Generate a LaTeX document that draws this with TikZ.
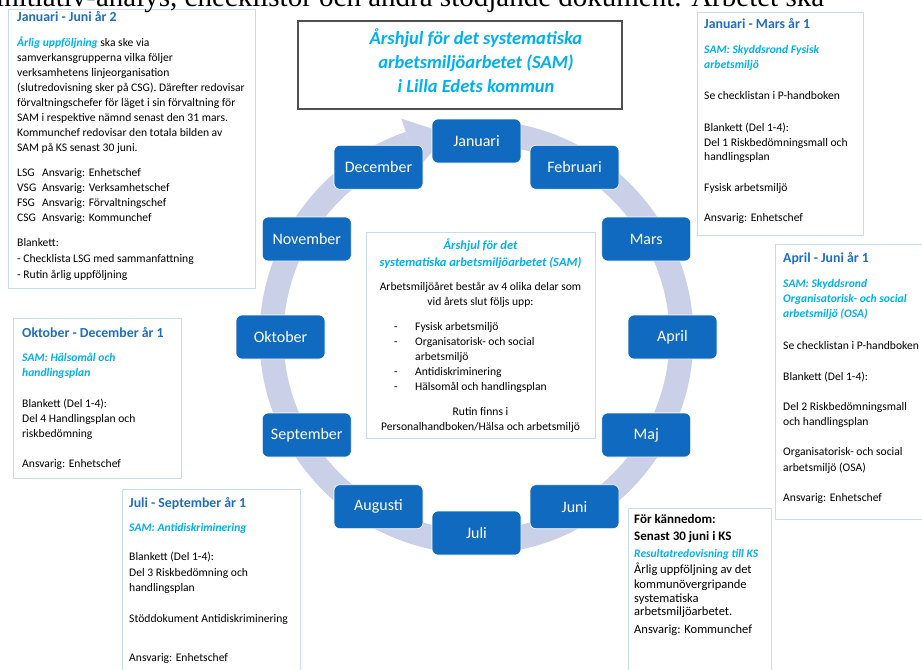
\documentclass[tikz,border=0pt]{standalone}
\usepackage{fontspec}
\setmainfont{Carlito}
\newfontfamily\seriffont{Liberation Serif}
\usepackage{xcolor}
\definecolor{monthblue}{RGB}{16,106,192}
\definecolor{headblue}{RGB}{30,110,198}
\definecolor{samcyan}{RGB}{0,176,240}
\definecolor{ringgray}{RGB}{201,208,232}
\definecolor{boxline}{RGB}{197,220,244}
\definecolor{titleline}{RGB}{80,80,80}
\newcommand{\samline}[1]{\textcolor{samcyan}{\bfseries\itshape #1}}
\tikzstyle{month}=[rectangle,rounded corners=6pt,fill=monthblue,draw=white,line width=0.6pt,minimum width=89pt,minimum height=44pt,text=white,font=\fontsize{16}{18}\selectfont]
\tikzstyle{sidebox}=[draw=boxline,line width=0.8pt,fill=white]
\tikzstyle{boxhead}=[anchor=base west,inner sep=0,text=headblue,font=\fontsize{13.8}{16}\selectfont\bfseries]
\tikzstyle{boxtext}=[anchor=north west,inner sep=0,align=left,font=\fontsize{11.6}{15}\selectfont]

\begin{document}
\begin{tikzpicture}[x=1pt,y=-1pt]
  \useasboundingbox (0,0) rectangle (922,670);
  \begin{scope}
    \clip (0,0) rectangle (922,670);

    % ring with arrow
    \begin{scope}[shift={(476.5,337)},yscale=-1]
      \fill[ringgray] (84:217) arc[start angle=84,end angle=-251,radius=217] -- (-251:193) arc[start angle=-251,end angle=84,radius=193] -- cycle;
      \fill[ringgray] (109:231) -- (98:205) -- (109:179) -- cycle;
    \end{scope}

    \foreach \m/\a in {Januari/90,Februari/60,Mars/30,April/0,Maj/-30,Juni/-60,Juli/-90,Augusti/-120,September/-150,Oktober/180,November/150,December/120}
      \node[month] (\m) at ({476.5+196*cos(\a)},{337-196*sin(\a)}) {\m};

    % title
    \draw[titleline,line width=1.2pt,fill=white] (298,21) rectangle (622,109);
    \node[anchor=north,inner sep=0,align=center,text=samcyan,font=\fontsize{18.5}{24}\selectfont\bfseries\itshape] (title) at (476,27) {\strut Årshjul för det systematiska\\arbetsmiljöarbetet (SAM)\\i Lilla Edets kommun};

    % centre
    \draw[sidebox] (366,232) rectangle (595,438);
    \node[anchor=north,inner sep=0,align=center,text=samcyan,font=\fontsize{12.5}{17}\selectfont\bfseries\itshape] (ctitle) at (480.5,237.5) {\strut Årshjul för det\\systematiska arbetsmiljöarbetet (SAM)};
    \node[anchor=north,inner sep=0,align=center,font=\fontsize{11.6}{15}\selectfont] (cintro) at (480.5,280) {\strut Arbetsmiljöåret består av 4 olika delar som\\vid årets slut följs upp:};
    \node[anchor=north west,inner sep=0,align=left,font=\fontsize{11.6}{15}\selectfont] (clist) at (394,320) {\strut\makebox[21pt][l]{-}Fysisk arbetsmiljö\\\makebox[21pt][l]{-}Organisatorisk- och social\\\hspace*{21pt}arbetsmiljö\\\makebox[21pt][l]{-}Antidiskriminering\\\makebox[21pt][l]{-}Hälsomål och handlingsplan};
    \node[anchor=north,inner sep=0,align=center,font=\fontsize{11.6}{15}\selectfont] (crutin) at (480.5,405) {\strut Rutin finns i\\Personalhandboken/Hälsa och arbetsmiljö};

    % Januari - Juni år 2
    \draw[sidebox] (8,9) rectangle (255,288);
    \node[boxhead] (hJJ) at (17,21) {Januari - Juni år 2};
    \node[boxtext] (tJJ) at (17,36) {\strut\samline{Årlig uppföljning} ska ske via\\
      samverkansgrupperna vilka följer\\
      verksamhetens linjeorganisation\\
      (slutredovisning sker på CSG). Därefter redovisar\\
      förvaltningschefer för läget i sin förvaltning för\\
      SAM i respektive nämnd senast den 31 mars.\\
      Kommunchef redovisar den totala bilden av\\
      SAM på KS senast 30 juni.\\[10pt]
      \makebox[25pt][l]{LSG}Ansvarig: Enhetschef\\
      \makebox[25pt][l]{VSG}Ansvarig: Verksamhetschef\\
      \makebox[25pt][l]{FSG}Ansvarig: Förvaltningschef\\
      \makebox[25pt][l]{CSG}Ansvarig: Kommunchef\\[10pt]
      Blankett:\\[1pt]
      - Checklista LSG med sammanfattning\\[1pt]
      - Rutin årlig uppföljning};

    % Januari - Mars år 1
    \draw[sidebox] (697,12) rectangle (863,235);
    \node[boxhead] (hJM) at (704,28.5) {Januari - Mars år 1};
    \node[boxtext] (tJM) at (704,43) {\strut\samline{SAM: Skyddsrond Fysisk}\\
      \samline{arbetsmiljö}\\[16pt]
      Se checklistan i P-handboken\\[17pt]
      Blankett (Del 1-4):\\
      Del 1 Riskbedömningsmall och\\[-1pt]
      handlingsplan\\[16pt]
      Fysisk arbetsmiljö\\[15pt]
      Ansvarig: Enhetschef};

    % April - Juni år 1
    \draw[sidebox] (775,244) rectangle (930,519);
    \node[boxhead] (hAJ) at (783,262.5) {April - Juni år 1};
    \node[boxtext] (tAJ) at (783,277) {\strut\samline{SAM: Skyddsrond}\\
      \samline{Organisatorisk- och social}\\
      \samline{arbetsmiljö (OSA)}\\[17pt]
      Se checklistan i P-handboken\\[16pt]
      Blankett (Del 1-4):\\[15pt]
      Del 2 Riskbedömningsmall\\
      och handlingsplan\\[15pt]
      Organisatorisk- och social\\[1pt]
      arbetsmiljö (OSA)\\[15pt]
      Ansvarig: Enhetschef};

    % Oktober - December år 1
    \draw[sidebox] (13,318) rectangle (181,478);
    \node[boxhead] (hOD) at (22,337.5) {Oktober - December år 1};
    \node[boxtext] (tOD) at (22,351) {\strut\samline{SAM: Hälsomål och}\\
      \samline{handlingsplan}\\[16pt]
      Blankett (Del 1-4):\\
      Del 4 Handlingsplan och\\
      riskbedömning\\[15pt]
      Ansvarig: Enhetschef};

    % Juli - September år 1
    \draw[sidebox] (122,489) rectangle (300,680);
    \node[boxhead] (hJS) at (129,507.5) {Juli - September år 1};
    \node[boxtext] (tJS) at (129,521) {\strut\samline{SAM: Antidiskriminering}\\[14pt]
      Blankett (Del 1-4):\\[1pt]
      Del 3 Riskbedömning och\\
      handlingsplan\\[16pt]
      Stöddokument Antidiskriminering\\[24pt]
      Ansvarig: Enhetschef};

    % For kannedom
    \draw[sidebox] (628,508) rectangle (771,680);
    \node[anchor=north west,inner sep=0,align=left,font=\fontsize{12.5}{15}\selectfont] (tKS) at (634,512.5) {\strut\textbf{\fontsize{13}{15}\selectfont För kännedom:}\\[2pt]
      \textbf{\fontsize{13}{15}\selectfont Senast 30 juni i KS}\\[2pt]
      \samline{\fontsize{11.5}{15}\selectfont Resultatredovisning till KS}\\[1pt]
      Årlig uppföljning av det\\
      kommunövergripande\\[-1pt]
      systematiska\\[-2pt]
      arbetsmiljöarbetet.\\[3pt]
      Ansvarig: Kommunchef};

    % cut line of the page text above
    \node[anchor=base west,inner sep=0,font=\seriffont\fontsize{29}{32}\selectfont] (cutline) at (-4,6) {initiativ-analys, checklistor och andra stödjande dokument. Arbetet ska};
  \end{scope}
\end{tikzpicture}
\end{document}
